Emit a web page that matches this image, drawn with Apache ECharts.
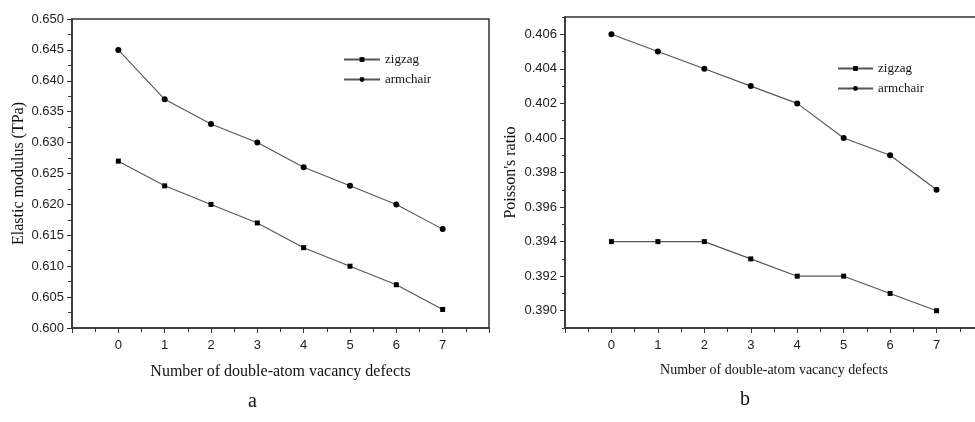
<!DOCTYPE html>
<html>
<head>
<meta charset="utf-8">
<script src="https://cdn.jsdelivr.net/npm/echarts@6/dist/echarts.min.js"></script>
<style>html,body{margin:0;padding:0;background:#fff}#c{width:975px;height:422px}</style>
</head>
<body>
<div id="c"></div>
<script>
const categories = [0, 1, 2, 3, 4, 5, 6, 7];
const seriesNames = ['zigzag', 'armchair'];
const elasticZigzag = [0.627, 0.623, 0.620, 0.617, 0.613, 0.610, 0.607, 0.603];
const elasticArmchair = [0.645, 0.637, 0.633, 0.630, 0.626, 0.623, 0.620, 0.616];
const poissonZigzag = [0.394, 0.394, 0.394, 0.393, 0.392, 0.392, 0.391, 0.390];
const poissonArmchair = [0.406, 0.405, 0.404, 0.403, 0.402, 0.400, 0.399, 0.397];
const poissonMajorTicks = [0.390, 0.392, 0.394, 0.396, 0.398, 0.400, 0.402, 0.404, 0.406];
const poissonMinorTicks = [0.389, 0.391, 0.393, 0.395, 0.397, 0.399, 0.401, 0.403, 0.405, 0.407];
const xTitle = 'Number of double-atom vacancy defects';
const yTitleA = 'Elastic modulus (TPa)';
const yTitleB = "Poisson's ratio";

const sans = 'Liberation Sans, Arial, sans-serif';
const serif = 'Liberation Serif, Times New Roman, serif';
const axisColor = '#333';
const pair = (xs, ys) => xs.map((x, i) => [x, ys[i]]);

function xAxisDef(gridIndex, nameSize, nameGap) {
  return {
    type: 'value', gridIndex, min: -1, max: 8, interval: 1,
    name: xTitle, nameLocation: 'middle', nameGap,
    nameTextStyle: { fontFamily: serif, fontSize: nameSize, color: '#111' },
    axisLine: { onZero: false, lineStyle: { color: axisColor, width: 1.5 } },
    axisTick: { inside: false, length: 5, lineStyle: { color: axisColor } },
    minorTick: { show: true, splitNumber: 2, length: 4, lineStyle: { color: axisColor } },
    axisLabel: { fontFamily: sans, fontSize: 13, color: '#222', margin: 11,
      formatter: v => (v >= 0 && v <= 7) ? String(v) : '' },
    splitLine: { show: false }, minorSplitLine: { show: false }
  };
}
function lineSeries(name, x, y, data, symbol) {
  return {
    type: 'line', name, xAxisIndex: x, yAxisIndex: y,
    data, symbol, symbolSize: symbol === 'rect' ? 5 : 6,
    lineStyle: { color: '#555', width: 1.1 },
    itemStyle: { color: '#000' },
    animation: false
  };
}

const chart = echarts.init(document.getElementById('c'), null, { renderer: 'canvas' });
chart.setOption({
  backgroundColor: '#fff',
  animation: false,
  grid: [
    { left: 72, top: 19, width: 417, height: 309, show: true, borderColor: axisColor, borderWidth: 1.5,
      backgroundColor: 'transparent', outerBoundsMode: 'none', containLabel: false },
    { left: 565, top: 17, width: 418, height: 311, show: true, borderColor: axisColor, borderWidth: 1.5,
      backgroundColor: 'transparent', outerBoundsMode: 'none', containLabel: false }
  ],
  legend: [
    { data: seriesNames, left: 343, top: 53, padding: 0, orient: 'vertical', itemWidth: 36, itemHeight: 6, itemGap: 7,
      itemTextGap: 3, textStyle: { fontFamily: serif, fontSize: 13, color: '#111' }, selectedMode: false },
    { data: seriesNames, left: 837, top: 62, padding: 0, orient: 'vertical', itemWidth: 35, itemHeight: 6, itemGap: 7,
      textStyle: { fontFamily: serif, fontSize: 13, color: '#111' }, selectedMode: false }
  ],
  xAxis: [ xAxisDef(0, 16, 36), xAxisDef(1, 14, 35) ],
  yAxis: [
    { type: 'value', gridIndex: 0, min: 0.6, max: 0.65, interval: 0.005,
      name: yTitleA, nameLocation: 'middle', nameGap: 45,
      nameTextStyle: { fontFamily: serif, fontSize: 16, color: '#111' },
      axisLine: { show: true, onZero: false, lineStyle: { color: axisColor, width: 1.5 } },
      axisTick: { show: true, length: 5, lineStyle: { color: axisColor } },
      minorTick: { show: true, splitNumber: 2, length: 4, lineStyle: { color: axisColor } },
      axisLabel: { fontFamily: sans, fontSize: 13, color: '#222', margin: 8, formatter: v => v.toFixed(3) },
      splitLine: { show: false } },
    { type: 'value', gridIndex: 1, min: 0.389, max: 0.407,
      name: yTitleB, nameLocation: 'middle', nameGap: 46,
      nameTextStyle: { fontFamily: serif, fontSize: 16, color: '#111' },
      axisLine: { show: true, onZero: false, lineStyle: { color: axisColor, width: 1.5 } },
      axisTick: { show: true, length: 5, customValues: poissonMajorTicks, lineStyle: { color: axisColor } },
      axisLabel: { fontFamily: sans, fontSize: 13, color: '#222', margin: 8, customValues: poissonMajorTicks, formatter: v => v.toFixed(3) },
      splitLine: { show: false } },
    { type: 'value', gridIndex: 1, min: 0.389, max: 0.407, position: 'left',
      axisLine: { show: false, onZero: false },
      axisTick: { show: true, length: 3, customValues: poissonMinorTicks, lineStyle: { color: axisColor } },
      axisLabel: { show: false }, splitLine: { show: false } }
  ],
  graphic: [
    { type: 'text', left: 248, top: 392, style: { text: 'a', font: '20px ' + serif, fill: '#111' } },
    { type: 'text', left: 740, top: 390, style: { text: 'b', font: '20px ' + serif, fill: '#111' } }
  ],
  series: [
    lineSeries('zigzag', 0, 0, pair(categories, elasticZigzag), 'rect'),
    lineSeries('armchair', 0, 0, pair(categories, elasticArmchair), 'circle'),
    lineSeries('zigzag', 1, 1, pair(categories, poissonZigzag), 'rect'),
    lineSeries('armchair', 1, 1, pair(categories, poissonArmchair), 'circle')
  ]
});
</script>
</body>
</html>
